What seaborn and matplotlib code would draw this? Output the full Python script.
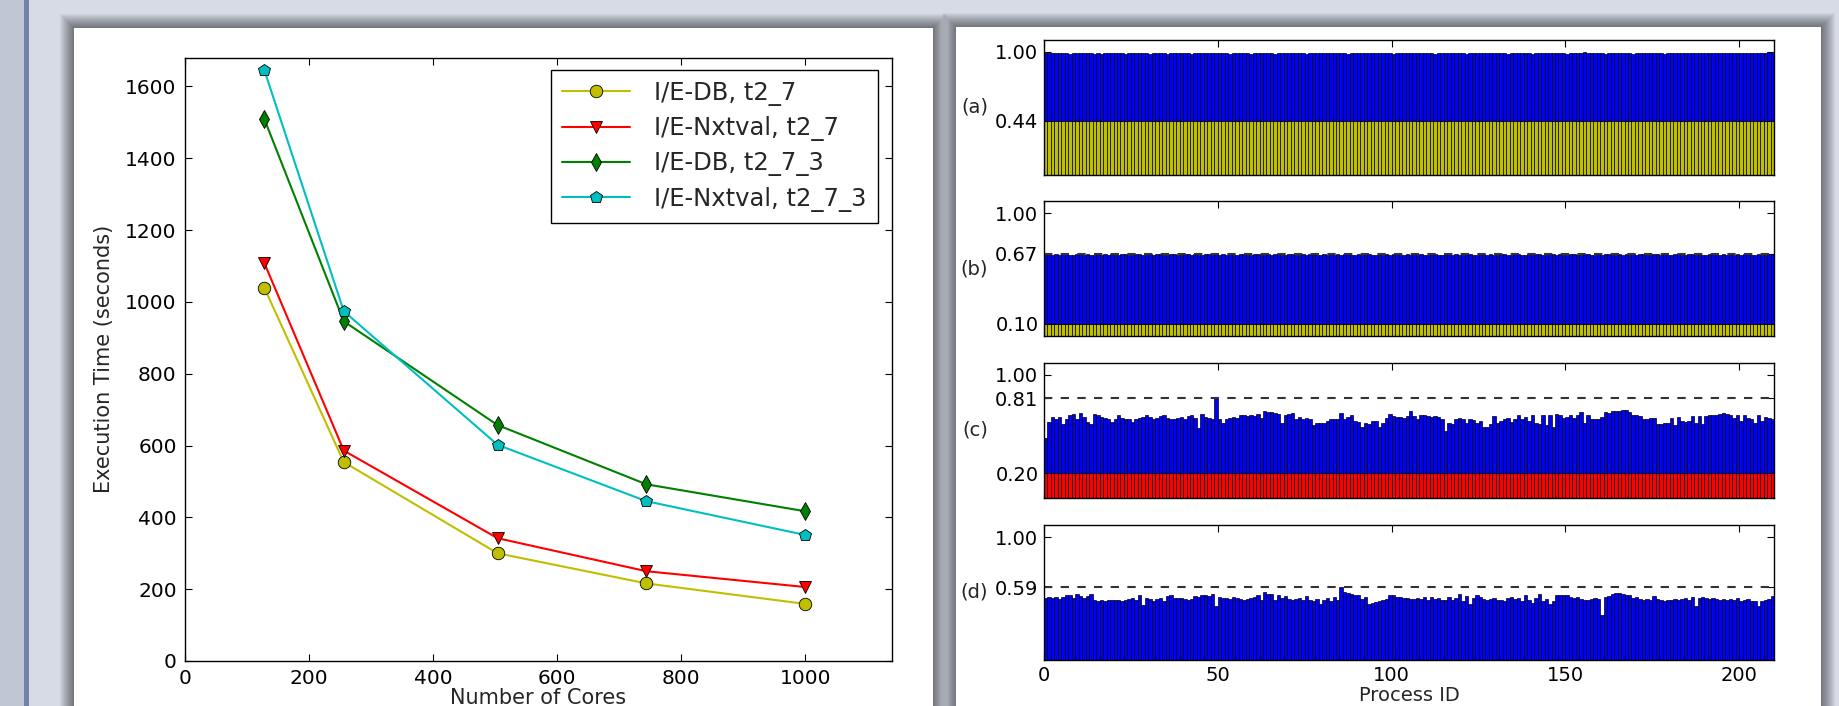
import numpy as np
import pandas as pd
import matplotlib
matplotlib.use("Agg")
import matplotlib.pyplot as plt
from matplotlib.patches import Rectangle
import seaborn as sns

W, H = 1839, 706

# left chart: execution time vs cores
cores = [128, 256, 504, 744, 1000]
db_t27 = [1039, 554, 300, 216, 159]
nxt_t27 = [1108, 586, 342, 250, 206]
db_t273 = [1509, 946, 657, 492, 417]
nxt_t273 = [1645, 974, 602, 445, 351]

series_names = ["I/E-DB, t2_7", "I/E-Nxtval, t2_7", "I/E-DB, t2_7_3", "I/E-Nxtval, t2_7_3"]
series_colors = [(0.75, 0.75, 0), "red", (0, 0.5, 0), (0, 0.75, 0.75)]
series_markers = ["o", "v", "d", "p"]

# right chart: per-process fractions, 210 processes
pid = np.arange(210)

a_base = 0.44
a_total = [
    0.99, 0.99, 0.99, 0.995, 0.99, 0.99, 0.99, 0.985, 0.99, 0.99, 0.99, 0.99, 0.99, 0.99, 0.985,
    0.99, 0.985, 0.995, 0.99, 0.99, 0.99, 0.99, 0.99, 0.985, 0.99, 0.99, 0.99, 0.99, 0.99, 0.99,
    0.985, 0.99, 0.99, 0.99, 0.99, 0.985, 0.99, 0.99, 0.99, 0.99, 0.99, 0.99, 0.985, 0.99, 0.99,
    0.99, 0.99, 0.99, 0.995, 0.99, 0.99, 0.99, 0.99, 0.985, 0.99, 0.99, 0.99, 0.99, 0.99, 0.985,
    0.99, 0.99, 0.99, 0.99, 0.99, 0.99, 0.985, 0.99, 0.995, 0.99, 0.99, 0.99, 0.99, 0.99, 0.99,
    0.985, 0.99, 0.99, 0.99, 0.99, 0.99, 0.99, 0.995, 0.99, 0.99, 0.99, 0.99, 0.985, 0.99, 0.99,
    0.99, 0.99, 0.99, 0.99, 0.995, 0.99, 0.99, 0.99, 0.99, 0.99, 0.985, 0.99, 0.99, 0.99, 0.99,
    0.99, 0.99, 0.99, 0.99, 0.99, 0.99, 0.99, 0.985, 0.99, 0.99, 0.99, 0.99, 0.99, 0.995, 0.99,
    0.99, 0.985, 0.99, 0.99, 0.99, 0.99, 0.99, 0.99, 0.99, 0.99, 0.99, 0.99, 0.99, 0.985, 0.99,
    0.99, 0.99, 0.99, 0.99, 0.99, 0.985, 0.99, 0.99, 0.99, 0.99, 0.99, 0.99, 0.99, 0.99, 0.99,
    0.985, 0.99, 0.99, 0.99, 0.995, 1.0, 0.99, 0.99, 0.99, 0.99, 0.99, 0.985, 0.99, 0.99, 0.99,
    0.99, 0.99, 0.99, 0.99, 0.985, 0.99, 0.99, 0.99, 0.99, 0.99, 0.99, 0.99, 0.99, 0.985, 0.99,
    0.99, 0.99, 0.99, 0.99, 0.99, 0.99, 0.995, 0.99, 0.99, 0.99, 0.99, 0.99, 0.99, 0.99, 0.99,
    0.99, 0.995, 0.99, 0.99, 0.99, 0.99, 0.995, 0.99, 0.99, 0.995, 0.99, 0.995, 0.99, 1.0, 0.995,
]

b_base = 0.10
b_total = [
    0.66, 0.665, 0.66, 0.67, 0.66, 0.665, 0.67, 0.66, 0.66, 0.665, 0.67, 0.66, 0.665, 0.66, 0.66,
    0.665, 0.66, 0.67, 0.66, 0.665, 0.66, 0.66, 0.67, 0.665, 0.66, 0.66, 0.665, 0.67, 0.66, 0.66,
    0.665, 0.66, 0.67, 0.665, 0.66, 0.66, 0.67, 0.665, 0.66, 0.66, 0.665, 0.67, 0.66, 0.665, 0.66,
    0.66, 0.67, 0.665, 0.66, 0.665, 0.66, 0.67, 0.66, 0.665, 0.66, 0.66, 0.67, 0.665, 0.66, 0.66,
    0.665, 0.67, 0.66, 0.66, 0.665, 0.66, 0.67, 0.665, 0.66, 0.66, 0.665, 0.67, 0.66, 0.66, 0.665,
    0.66, 0.67, 0.665, 0.66, 0.66, 0.665, 0.66, 0.67, 0.66, 0.665, 0.66, 0.67, 0.665, 0.66, 0.66,
    0.665, 0.66, 0.67, 0.665, 0.66, 0.66, 0.67, 0.66, 0.665, 0.66, 0.665, 0.67, 0.66, 0.66, 0.665,
    0.66, 0.67, 0.66, 0.665, 0.66, 0.66, 0.67, 0.665, 0.66, 0.66, 0.665, 0.67, 0.66, 0.665, 0.66,
    0.66, 0.67, 0.665, 0.66, 0.66, 0.665, 0.67, 0.66, 0.665, 0.66, 0.66, 0.67, 0.665, 0.66, 0.66,
    0.665, 0.67, 0.66, 0.66, 0.665, 0.66, 0.67, 0.665, 0.66, 0.66, 0.665, 0.67, 0.66, 0.665, 0.66,
    0.66, 0.67, 0.665, 0.66, 0.66, 0.665, 0.67, 0.66, 0.66, 0.665, 0.66, 0.67, 0.665, 0.66, 0.66,
    0.665, 0.66, 0.67, 0.66, 0.665, 0.66, 0.67, 0.665, 0.66, 0.66, 0.665, 0.67, 0.66, 0.665, 0.66,
    0.66, 0.67, 0.665, 0.66, 0.66, 0.665, 0.67, 0.66, 0.665, 0.66, 0.66, 0.67, 0.665, 0.66, 0.66,
    0.665, 0.66, 0.67, 0.66, 0.665, 0.66, 0.67, 0.665, 0.66, 0.66, 0.665, 0.66, 0.66, 0.665, 0.67,
]

c_base = 0.20
c_total = [
    0.49, 0.62, 0.66, 0.64, 0.66, 0.60, 0.64, 0.67, 0.685, 0.64, 0.69, 0.66, 0.62, 0.60, 0.68,
    0.67, 0.66, 0.65, 0.64, 0.62, 0.64, 0.67, 0.65, 0.64, 0.645, 0.62, 0.64, 0.65, 0.66, 0.675,
    0.66, 0.64, 0.65, 0.665, 0.67, 0.65, 0.64, 0.64, 0.65, 0.66, 0.64, 0.665, 0.67, 0.65, 0.57,
    0.68, 0.66, 0.65, 0.64, 0.81, 0.64, 0.61, 0.64, 0.65, 0.66, 0.65, 0.67, 0.675, 0.665, 0.675,
    0.665, 0.68, 0.65, 0.705, 0.70, 0.695, 0.69, 0.685, 0.61, 0.675, 0.685, 0.69, 0.64, 0.66, 0.64,
    0.65, 0.64, 0.59, 0.61, 0.61, 0.61, 0.625, 0.64, 0.64, 0.64, 0.69, 0.64, 0.66, 0.67, 0.625,
    0.62, 0.58, 0.61, 0.60, 0.625, 0.625, 0.58, 0.61, 0.65, 0.68, 0.665, 0.66, 0.66, 0.65, 0.665,
    0.71, 0.665, 0.64, 0.67, 0.675, 0.665, 0.66, 0.665, 0.66, 0.64, 0.545, 0.61, 0.60, 0.64, 0.65,
    0.64, 0.61, 0.64, 0.63, 0.61, 0.625, 0.575, 0.58, 0.60, 0.665, 0.61, 0.625, 0.64, 0.65, 0.62,
    0.64, 0.67, 0.64, 0.66, 0.625, 0.67, 0.61, 0.60, 0.675, 0.59, 0.67, 0.58, 0.685, 0.675, 0.65,
    0.66, 0.675, 0.65, 0.67, 0.695, 0.61, 0.675, 0.64, 0.64, 0.64, 0.66, 0.695, 0.69, 0.705, 0.71,
    0.71, 0.715, 0.715, 0.695, 0.675, 0.67, 0.665, 0.64, 0.64, 0.65, 0.65, 0.60, 0.60, 0.61, 0.61,
    0.65, 0.595, 0.655, 0.625, 0.62, 0.625, 0.665, 0.61, 0.665, 0.60, 0.665, 0.67, 0.67, 0.675, 0.68,
    0.69, 0.685, 0.67, 0.65, 0.675, 0.625, 0.675, 0.65, 0.64, 0.61, 0.67, 0.625, 0.66, 0.65, 0.64,
]

d_total = [
    0.508, 0.514, 0.508, 0.514, 0.50, 0.514, 0.525, 0.53, 0.508, 0.535, 0.519, 0.508, 0.519, 0.541, 0.492,
    0.481, 0.486, 0.481, 0.486, 0.486, 0.492, 0.486, 0.481, 0.492, 0.497, 0.508, 0.486, 0.525, 0.448, 0.508,
    0.497, 0.481, 0.497, 0.508, 0.476, 0.519, 0.525, 0.508, 0.508, 0.508, 0.497, 0.486, 0.497, 0.519, 0.514,
    0.525, 0.53, 0.519, 0.535, 0.443, 0.514, 0.508, 0.508, 0.50, 0.514, 0.503, 0.497, 0.486, 0.497, 0.508,
    0.514, 0.525, 0.492, 0.552, 0.535, 0.535, 0.486, 0.53, 0.508, 0.519, 0.497, 0.486, 0.497, 0.508, 0.486,
    0.519, 0.492, 0.476, 0.497, 0.459, 0.492, 0.508, 0.476, 0.514, 0.486, 0.59, 0.557, 0.546, 0.535, 0.525,
    0.53, 0.497, 0.514, 0.459, 0.465, 0.47, 0.476, 0.492, 0.497, 0.525, 0.53, 0.514, 0.514, 0.508, 0.508,
    0.497, 0.497, 0.503, 0.497, 0.514, 0.492, 0.514, 0.497, 0.508, 0.492, 0.492, 0.514, 0.492, 0.508, 0.541,
    0.481, 0.519, 0.459, 0.508, 0.53, 0.514, 0.497, 0.492, 0.497, 0.508, 0.486, 0.492, 0.481, 0.508, 0.514,
    0.497, 0.508, 0.481, 0.525, 0.492, 0.465, 0.503, 0.541, 0.481, 0.497, 0.459, 0.481, 0.53, 0.525, 0.53,
    0.525, 0.514, 0.508, 0.514, 0.497, 0.492, 0.492, 0.497, 0.503, 0.497, 0.365, 0.514, 0.519, 0.535, 0.546,
    0.546, 0.541, 0.53, 0.525, 0.508, 0.514, 0.497, 0.486, 0.497, 0.486, 0.519, 0.497, 0.492, 0.476, 0.486,
    0.492, 0.497, 0.492, 0.497, 0.508, 0.486, 0.514, 0.438, 0.508, 0.514, 0.503, 0.497, 0.508, 0.497, 0.486,
    0.497, 0.486, 0.497, 0.486, 0.508, 0.481, 0.492, 0.497, 0.476, 0.481, 0.443, 0.481, 0.492, 0.497, 0.519,
]

panel_labels = ["(a)", "(b)", "(c)", "(d)"]
panel_ticks = [[0.44, 1.00], [0.10, 0.67, 1.00], [0.20, 0.81, 1.00], [0.59, 1.00]]
panel_refs = [None, 0.67, 0.81, 0.59]

sns.set_style("ticks", {"xtick.direction": "in", "ytick.direction": "in",
                        "axes.edgecolor": "black", "xtick.color": "black", "ytick.color": "black"})
plt.rcParams["font.family"] = ["DejaVu Sans"]
plt.rcParams["xtick.top"] = True
plt.rcParams["ytick.right"] = True
plt.rcParams["axes.linewidth"] = 1.0

fig = plt.figure(figsize=(W / 100, H / 100), dpi=100)
fig.patch.set_facecolor("#d7dbe5")


def px_rect(x0, y0, x1, y1, **kw):
    # rectangle given in pixel coords, y measured from the top
    r = Rectangle((x0 / W, 1 - y1 / H), (x1 - x0) / W, (y1 - y0) / H,
                  transform=fig.transFigure, **kw)
    fig.add_artist(r)


# slide decoration
px_rect(0, 0, 24, H, fc="#c0c6d4", lw=0, zorder=-5)
px_rect(24, 0, 29, H, fc="#7282aa", lw=0, zorder=-5)
for box in [(74, 28, 933, H + 20), (956, 27, 1821, H + 20)]:
    for k in range(14, 0, -1):
        px_rect(box[0] - k, box[1] - k, box[2] + k, box[3], fc="black", alpha=0.04, lw=0, zorder=-4)
    px_rect(*box, fc="white", lw=0, zorder=-3)

# ---- left: line chart
ax = fig.add_axes([185 / W, 1 - 661 / H, 707 / W, 603.3 / H])
for vals, name, col, mk in zip([db_t27, nxt_t27, db_t273, nxt_t273],
                               series_names, series_colors, series_markers):
    sns.lineplot(x=cores, y=vals, ax=ax, color=col, marker=mk, markersize=9,
                 markeredgecolor="black", markeredgewidth=0.6, linewidth=1.5, label=name)
ax.set_xlim(0, 1140)
ax.set_ylim(0, 1680)
ax.set_xticks(range(0, 1001, 200))
ax.set_yticks(range(0, 1601, 200))
ax.tick_params(labelsize=14.5, length=5, width=0.8, pad=6)
ax.set_xlabel("Number of Cores", fontsize=15, labelpad=0)
ax.set_ylabel("Execution Time (seconds)", fontsize=15, labelpad=8)
leg = ax.legend(loc="upper right", bbox_to_anchor=(0.980, 0.9796), borderaxespad=0,
                fontsize=17.5, fancybox=False, edgecolor="black", framealpha=1,
                handlelength=2.8, handletextpad=1.0, labelspacing=0.42, borderpad=0.45)
leg.get_frame().set_linewidth(1.0)

# ---- right: per-process stacked bars
tops = [39.6, 201, 362.6, 524.8]
bases = [a_base, b_base, c_base, None]
base_colors = [(0.75, 0.75, 0), (0.75, 0.75, 0), "red", None]
totals = [a_total, b_total, c_total, d_total]

for i in range(4):
    axr = fig.add_axes([1044 / W, 1 - (tops[i] + 135.2) / H, 730 / W, 135.2 / H])
    tot = np.array(totals[i])
    if bases[i] is not None:
        base = np.full(len(pid), bases[i])
        axr.bar(pid, base, width=1, align="edge", color=base_colors[i],
                edgecolor="black", linewidth=0.5)
        axr.bar(pid, tot - base, bottom=base, width=1, align="edge", color="blue",
                edgecolor="black", linewidth=0.5)
    else:
        axr.bar(pid, tot, width=1, align="edge", color="blue",
                edgecolor="black", linewidth=0.5)
    if panel_refs[i] is not None:
        axr.axhline(panel_refs[i], color="#333333", linestyle="--", dashes=(4, 4), linewidth=1.5)
    axr.set_xlim(0, 210)
    axr.set_ylim(0, 1.1)
    axr.set_xticks([0, 50, 100, 150, 200])
    axr.set_yticks(panel_ticks[i])
    axr.set_yticklabels([f"{t:.2f}" for t in panel_ticks[i]])
    axr.tick_params(labelsize=14, length=5, width=0.8, pad=4)
    axr.set_ylabel(panel_labels[i], fontsize=14, rotation=0, labelpad=5, va="center", ha="right")
    if i < 3:
        axr.set_xticklabels([])
    else:
        axr.set_xlabel("Process ID", fontsize=14, labelpad=1)

fig.savefig("out.png", dpi=100, facecolor=fig.get_facecolor())
